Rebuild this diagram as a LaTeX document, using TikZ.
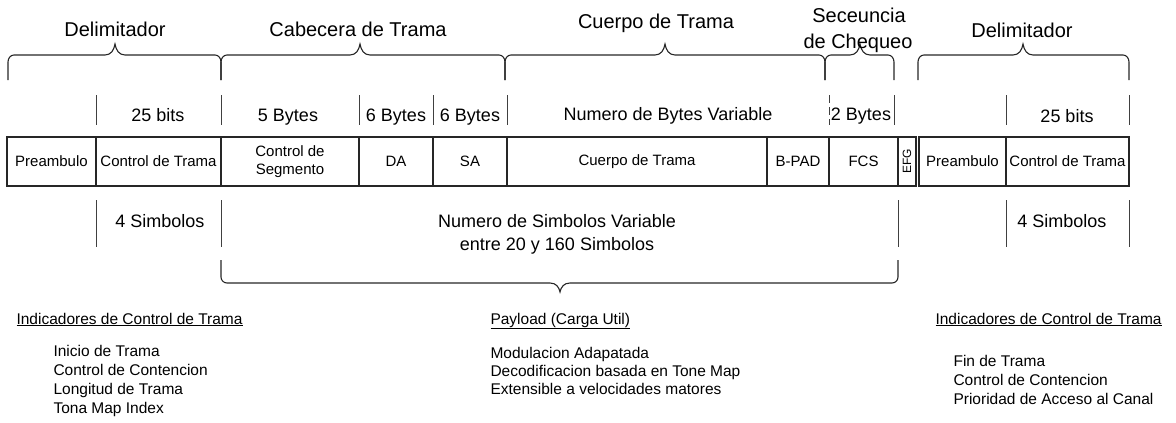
\documentclass[tikz,border=0pt]{standalone}
\usepackage{fontspec}
\setmainfont{Liberation Sans}
\usepackage{graphicx}
\usepackage{tikz}
\usetikzlibrary{positioning}

\begin{document}
\begin{tikzpicture}[x=1pt, y=-1pt,
    frame/.style={draw=black!85, line width=1.3pt},
    cell/.style={frame, minimum height=49pt, inner sep=0pt, outer sep=0pt,
                 font=\fontsize{15}{18}\selectfont, align=center},
    tick/.style={draw=black!75, line width=1pt},
    curly/.style={draw=black!85, line width=1.1pt},
    title/.style={font=\fontsize{20}{24}\selectfont, anchor=base},
    size/.style={font=\fontsize{18}{22}\selectfont, anchor=base},
    note/.style={font=\fontsize{15.5}{19}\selectfont, anchor=base west}]
\useasboundingbox (0,0) rectangle (1176,423);

% frame cells
\node[cell, minimum width=89pt, anchor=north west] (pre1) at (7,137) {Preambulo};
\node[cell, minimum width=125pt, right=0pt of pre1] (ctl1) {Control de Trama};
\node[cell, minimum width=138pt, right=0pt of ctl1] (seg) {Control de\\Segmento};
\node[cell, minimum width=74pt, right=0pt of seg] (da) {DA};
\node[cell, minimum width=74pt, right=0pt of da] (sa) {SA};
\node[cell, minimum width=260pt, right=0pt of sa] (body) {Cuerpo de Trama};
\node[cell, minimum width=62pt, right=0pt of body] (bpad) {B-PAD};
\node[cell, minimum width=69pt, right=0pt of bpad] (fcs) {FCS};
\node[cell, minimum width=18pt, right=0pt of fcs, font=\fontsize{12}{14}\selectfont] (efg) {\rotatebox{90}{EFG}};
\node[cell, minimum width=87pt, right=3pt of efg] (pre2) {Preambulo};
\node[cell, minimum width=123pt, right=0pt of pre2] (ctl2) {Control de Trama};

% upper braces
\foreach \xa/\xm/\xb in {8/115/221, 221/360/505, 505/665/825, 825/860/894, 918/1023/1129}
  \draw[curly] (\xa,80) -- (\xa,62) to[out=90,in=180] (\xa+6,55)
    -- (\xm-10,55) .. controls (\xm-4,55) and (\xm-1,50) .. (\xm,44)
    .. controls (\xm+1,50) and (\xm+4,55) .. (\xm+10,55)
    -- (\xb-6,55) to[out=0,in=90] (\xb,62) -- (\xb,80);

% lower brace
\draw[curly] (221,260) -- (221,277) to[out=-90,in=180] (227,283) -- (550,283)
  .. controls (556,283) and (559,287) .. (560,292)
  .. controls (561,287) and (564,283) .. (570,283)
  -- (892,283) to[out=0,in=-90] (898,277) -- (898,260);

% size ticks
\foreach \x in {96,221,359,433,507,894,1006,1129}
  \draw[tick] (\x,95) -- (\x,125);
\draw[tick, dash pattern=on 8pt off 4pt] (829,95) -- (829,125);
\foreach \x in {96,221,898,1006,1129}
  \draw[tick] (\x,200) -- (\x,247);

% field titles
\node[title] (delimL) at (115,36) {Delimitador};
\node[title] (cabecera) at (358,36) {Cabecera de Trama};
\node[title] (cuerpo) at (656,28) {Cuerpo de Trama};
\node[title] (secuencia) at (859,23) {Seceuncia};
\node[title] (chequeo) at (858,48) {de Chequeo};
\node[title] (delimR) at (1022,37) {Delimitador};

% field sizes
\node[size] (bitsL) at (158,121) {25 bits};
\node[size] (bytesSeg) at (288,121) {5 Bytes};
\node[size] (bytesDA) at (396,121) {6 Bytes};
\node[size] (bytesSA) at (470,121) {6 Bytes};
\node[size] (bytesVar) at (668,120) {Numero de Bytes Variable};
\node[size] (bytesFCS) at (861,120) {2 Bytes};
\node[size] (bitsR) at (1067,122) {25 bits};

% symbols
\node[size] (simbL) at (160,227) {4 Simbolos};
\node[size] (simbVar) at (557,227) {Numero de Simbolos Variable};
\node[size] (simbRange) at (557,250) {entre 20 y 160 Simbolos};
\node[size] (simbR) at (1062,227) {4 Simbolos};

% notes
\node[note] (indL) at (13,324) {\underline{Indicadores de Control de Trama}};
\foreach \txt [count=\i] in {Inicio de Trama, Control de Contencion, Longitud de Trama, Tona Map Index}
  \node[note] (itemL\i) at (50,337+19*\i) {\txt};
\node[note] (payload) at (487,324) {\underline{Payload (Carga Util)}};
\foreach \txt [count=\i] in {Modulacion Adapatada, Decodificacion basada en Tone Map, Extensible a velocidades matores}
  \node[note] (itemP\i) at (487,340+18*\i) {\txt};
\node[note] (indR) at (932,324) {\underline{Indicadores de Control de Trama}};
\foreach \txt [count=\i] in {Fin de Trama, Control de Contencion, Prioridad de Acceso al Canal}
  \node[note] (itemR\i) at (950,347+19*\i) {\txt};
\end{tikzpicture}
\end{document}
